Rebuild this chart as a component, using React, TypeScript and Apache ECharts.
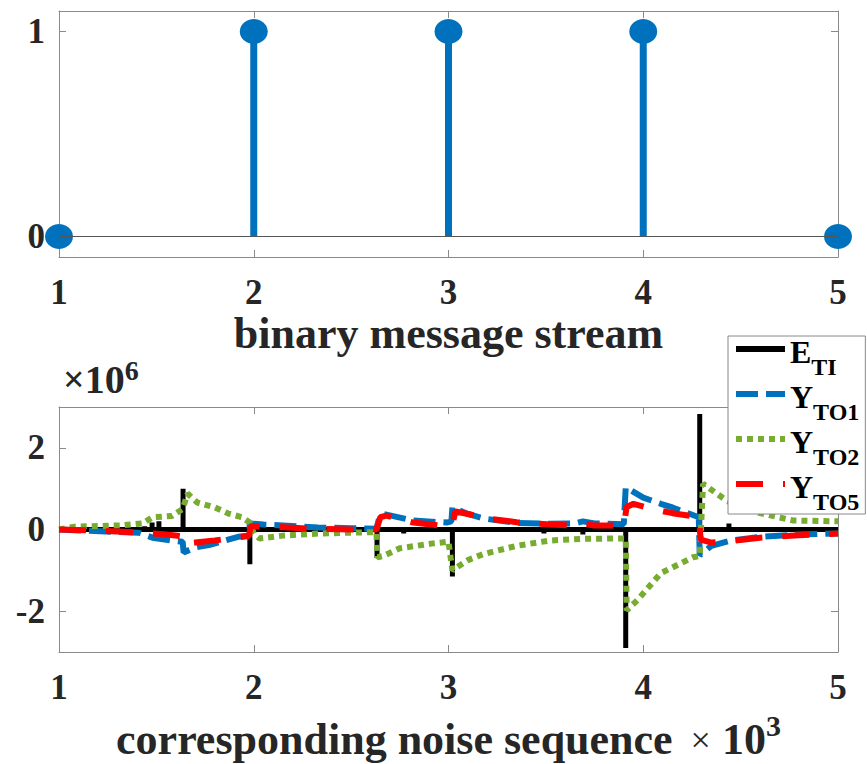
import React, { useEffect, useRef } from 'react';
import * as echarts from 'echarts';

// ---------- data ----------
const stemX = [1, 2, 3, 4, 5];
const stemY = [0, 1, 1, 1, 0];
const xTickValues = [1, 2, 3, 4, 5];
const topYTicks = [0, 1];
const bottomYTicks = [-2, 0, 2];
const seriesNames = ['E_TI', 'Y_TO1', 'Y_TO2', 'Y_TO5'];

// bottom panel: x in thousands of samples, y in millions
const E_TI: [number, number][] = [
  [1, 0], [1.44, 0], [1.44, 0.08], [1.44, 0], [1.478, 0], [1.478, 0.17], [1.478, 0],
  [1.513, 0], [1.513, 0.2], [1.513, 0], [1.637, 0], [1.637, 1.0], [1.637, 0],
  [1.98, 0], [1.98, -0.85], [1.98, 0], [2.633, 0], [2.633, -0.7], [2.633, 0],
  [2.77, 0], [2.77, -0.1], [2.77, 0], [3.02, 0], [3.02, -1.15], [3.02, 0],
  [3.49, 0], [3.49, -0.1], [3.49, 0], [3.69, 0], [3.69, -0.12], [3.69, 0],
  [3.91, 0], [3.91, -2.9], [3.91, 0], [4.29, 0], [4.29, 2.83], [4.29, 0],
  [4.44, 0], [4.44, 0.15], [4.44, 0], [4.93, 0], [4.93, 0.05], [4.93, 0], [5, 0],
];

const Y_TO1: [number, number][] = [
  [1, 0], [1.05, -0.01], [1.24, -0.05], [1.41, -0.08], [1.48, -0.2], [1.58, -0.27],
  [1.635, -0.3], [1.64, -0.56], [1.7, -0.44], [1.77, -0.38], [1.92, -0.18], [1.975, -0.15],
  [1.98, 0.15], [2.05, 0.12], [2.15, 0.1], [2.33, 0.05], [2.5, 0.03], [2.63, 0.02],
  [2.645, 0.3], [2.665, 0.38], [2.82, 0.22], [2.99, 0.17], [3.015, 0.2], [3.02, 0.54],
  [3.1, 0.38], [3.18, 0.27], [3.35, 0.16], [3.52, 0.14], [3.65, 0.15], [3.69, 0.2],
  [3.75, 0.15], [3.9, 0.13], [3.91, 1.03], [3.94, 0.95], [4.0, 0.78], [4.09, 0.63],
  [4.15, 0.54], [4.285, 0.3], [4.29, -0.63], [4.35, -0.4], [4.45, -0.27], [4.6, -0.18],
  [4.8, -0.12], [5, -0.1],
];

const Y_TO2: [number, number][] = [
  [1, 0], [1.08, 0.07], [1.32, 0.1], [1.43, 0.15], [1.48, 0.3], [1.58, 0.33], [1.635, 0.5],
  [1.66, 0.88], [1.71, 0.66], [1.8, 0.54], [1.87, 0.39], [1.94, 0.3], [1.98, 0.17],
  [2.0, -0.1], [2.03, -0.22], [2.15, -0.15], [2.33, -0.1], [2.56, -0.07], [2.63, -0.07],
  [2.635, -0.68], [2.664, -0.65], [2.75, -0.46], [2.92, -0.34], [3.0, -0.3], [3.02, -1.0],
  [3.1, -0.75], [3.18, -0.6], [3.35, -0.4], [3.52, -0.27], [3.69, -0.23], [3.85, -0.22],
  [3.91, -0.22], [3.915, -1.98], [3.97, -1.73], [4.09, -1.07], [4.256, -0.68], [4.29, -0.65],
  [4.307, 1.12], [4.43, 0.7], [4.6, 0.4], [4.77, 0.22], [5, 0.2],
];

const Y_TO5: [number, number][] = [
  [1, 0], [1.2, -0.03], [1.4, -0.07], [1.55, -0.12], [1.635, -0.17], [1.645, -0.35],
  [1.7, -0.32], [1.8, -0.27], [1.9, -0.2], [1.975, -0.16], [1.985, 0.08], [2.1, 0.07],
  [2.3, 0.02], [2.5, 0.0], [2.63, 0.0], [2.65, 0.3], [2.68, 0.34], [2.82, 0.17],
  [2.95, 0.1], [3.02, 0.12], [3.035, 0.44], [3.1, 0.38], [3.2, 0.27], [3.35, 0.18],
  [3.52, 0.12], [3.65, 0.1], [3.69, 0.14], [3.75, 0.1], [3.9, 0.1], [3.915, 0.55],
  [3.95, 0.63], [4.05, 0.5], [4.15, 0.4], [4.285, 0.3], [4.295, -0.25], [4.35, -0.32],
  [4.45, -0.28], [4.6, -0.2], [4.8, -0.14], [5, -0.1],
];

// ---------- styling ----------
const FONT = 'Liberation Serif, serif';
const AXIS_COLOR = '#8a8a8a';
const LABEL_COLOR = '#262626';
const BLUE = '#0072BD';
const GREEN = '#77AC30';
const RED = '#FF0000';

const tickLabel = {
  show: true,
  margin: 17,
  fontFamily: FONT,
  fontWeight: 'bold' as const,
  fontSize: 35,
  lineHeight: 36,
  color: LABEL_COLOR,
};

function xMain(gridIndex: number, name: string, nameGap: number, rich?: any) {
  return {
    type: 'value' as const,
    gridIndex,
    position: 'bottom' as const,
    min: 1,
    max: 5,
    interval: 1,
    axisLine: { show: true, onZero: false, lineStyle: { color: AXIS_COLOR, width: 1 } },
    axisTick: { show: true, inside: true, length: 7, lineStyle: { color: AXIS_COLOR } },
    axisLabel: { ...tickLabel, customValues: xTickValues, formatter: (v: number) => String(v) },
    splitLine: { show: false },
    name,
    nameLocation: 'middle' as const,
    nameGap,
    nameTextStyle: rich
      ? { fontFamily: FONT, fontWeight: 'bold', rich }
      : { fontFamily: FONT, fontWeight: 'bold', fontSize: 44, lineHeight: 46, color: LABEL_COLOR },
  };
}

function xMirror(gridIndex: number) {
  return {
    type: 'value' as const,
    gridIndex,
    position: 'top' as const,
    min: 1,
    max: 5,
    interval: 1,
    axisLine: { show: true, onZero: false, lineStyle: { color: AXIS_COLOR, width: 1 } },
    axisTick: { show: true, inside: true, length: 7, lineStyle: { color: AXIS_COLOR } },
    axisLabel: { show: false },
    splitLine: { show: false },
  };
}

function yAxis(gridIndex: number, min: number, max: number, ticks: number[], mirror: boolean) {
  return {
    type: 'value' as const,
    gridIndex,
    position: (mirror ? 'right' : 'left') as any,
    min,
    max,
    axisLine: { show: true, onZero: false, lineStyle: { color: AXIS_COLOR, width: 1 } },
    axisTick: { show: true, inside: true, length: 7, customValues: ticks, lineStyle: { color: AXIS_COLOR } },
    axisLabel: mirror
      ? { show: false }
      : { ...tickLabel, margin: 14, customValues: ticks, formatter: (v: number) => String(v) },
    splitLine: { show: false },
  };
}

const bottomNameRich = {
  t: { fontFamily: FONT, fontWeight: 'bold', fontSize: 44, lineHeight: 46, padding: [12, 0, 0, 0], color: LABEL_COLOR },
  x: { fontFamily: FONT, fontWeight: 'normal', fontSize: 36, lineHeight: 46, padding: [12, 0, 0, 0], color: LABEL_COLOR },
  s: { fontFamily: FONT, fontWeight: 'bold', fontSize: 30, lineHeight: 28, verticalAlign: 'top', color: LABEL_COLOR },
};

const legendRich = {
  m: { fontFamily: FONT, fontWeight: 'bold', fontSize: 32, lineHeight: 26, verticalAlign: 'top', color: '#000' },
  s: { fontFamily: FONT, fontWeight: 'bold', fontSize: 24, lineHeight: 22, verticalAlign: 'top', padding: [19, 0, 0, 0], color: '#000' },
};

function lineSeries(name: string, data: [number, number][], color: string, width: number, type: any) {
  return {
    name,
    type: 'line' as const,
    xAxisIndex: 2,
    yAxisIndex: 2,
    data,
    symbol: 'none',
    showSymbol: false,
    lineStyle: { color, width, type },
    itemStyle: { color },
    clip: true,
  };
}

const option: any = {
  animation: false,
  backgroundColor: '#fff',
  textStyle: { fontFamily: FONT },
  title: {
    text: '{x|×}{a|10}{b|6}',
    left: 63,
    top: 356,
    padding: 0,
    textStyle: {
      fontFamily: FONT,
      rich: {
        x: { fontFamily: FONT, fontSize: 38, lineHeight: 38, padding: [8, 0, 0, 0], color: LABEL_COLOR },
        a: { fontFamily: FONT, fontWeight: 'bold', fontSize: 40, lineHeight: 38, padding: [8, 0, 0, 0], color: LABEL_COLOR },
        b: { fontFamily: FONT, fontWeight: 'bold', fontSize: 28, lineHeight: 24, verticalAlign: 'top', color: LABEL_COLOR },
      },
    },
  },
  grid: [
    { left: 59, top: 11, width: 779, height: 246, outerBoundsMode: 'none' },
    { left: 59, top: 407, width: 779, height: 245, outerBoundsMode: 'none' },
  ],
  xAxis: [
    xMain(0, 'binary message stream', 51),
    xMirror(0),
    xMain(1, '{t|corresponding noise sequence}{x|  ×}{t| 10}{s|3}', 57, bottomNameRich),
    xMirror(1),
  ],
  yAxis: [
    yAxis(0, -0.1, 1.1, topYTicks, false),
    yAxis(0, -0.1, 1.1, topYTicks, true),
    yAxis(1, -3, 3, bottomYTicks, false),
    yAxis(1, -3, 3, bottomYTicks, true),
  ],
  legend: {
    data: seriesNames,
    orient: 'vertical',
    left: 728,
    top: 336,
    padding: [0, 6, 0, 5],
    itemGap: 2,
    itemWidth: 49,
    itemHeight: 14,
    backgroundColor: '#fff',
    borderColor: '#888',
    borderWidth: 1,
    borderRadius: 0,
    itemStyle: { opacity: 0 },
    lineStyle: { width: 6 },
    formatter: (name: string) => {
      const [m, s] = name.split('_');
      return `{m|${m}}{s|${s}}`;
    },
    textStyle: { fontFamily: FONT, fontWeight: 'bold', rich: legendRich },
  },
  series: [
    {
      type: 'bar',
      xAxisIndex: 0,
      yAxisIndex: 0,
      data: stemX.map((x, i) => [x, stemY[i]]),
      barWidth: 7,
      itemStyle: { color: BLUE },
      markLine: {
        silent: true,
        symbol: 'none',
        label: { show: false },
        lineStyle: { color: '#555', width: 1, type: 'solid' },
        data: [{ yAxis: 0 }],
      },
      z: 2,
    },
    {
      type: 'scatter',
      xAxisIndex: 0,
      yAxisIndex: 0,
      data: stemX.map((x, i) => [x, stemY[i]]),
      symbol: 'circle',
      symbolSize: [28, 25],
      itemStyle: { color: BLUE, opacity: 1 },
      clip: false,
      z: 3,
    },
    lineSeries('E_TI', E_TI, '#000', 5, 'solid'),
    lineSeries('Y_TO1', Y_TO1, BLUE, 6, [22, 8]),
    lineSeries('Y_TO2', Y_TO2, GREEN, 6, [6, 5]),
    lineSeries('Y_TO5', Y_TO5, RED, 6, [27, 20]),
  ],
};

export default function App() {
  const ref = useRef<HTMLDivElement>(null);
  useEffect(() => {
    const chart = echarts.init(ref.current as HTMLDivElement, null, { renderer: 'svg' });
    chart.setOption(option);
    return () => chart.dispose();
  }, []);
  return (
    <div
      ref={ref}
      style={{ position: 'absolute', left: 0, top: 0, width: 867, height: 764, background: '#fff' }}
    />
  );
}
